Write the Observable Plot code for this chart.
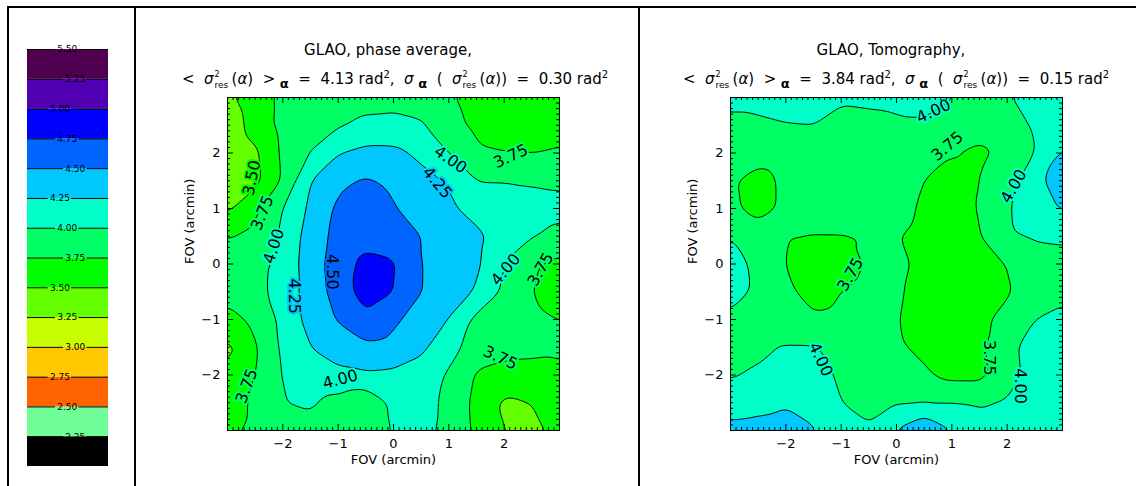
<!DOCTYPE html>
<html><head><meta charset="utf-8">
<script src="https://cdn.jsdelivr.net/npm/d3@7"></script>
<script src="https://cdn.jsdelivr.net/npm/@observablehq/plot@0.6"></script>
<style>
html,body{margin:0;padding:0;background:#fff;}
#root{position:relative;width:1136px;height:486px;overflow:hidden;font-family:"DejaVu Sans",sans-serif;color:#000;}
#root svg{position:absolute;top:0;overflow:visible;}
.ln{position:absolute;background:#000;z-index:5;}
.t{position:absolute;white-space:pre;transform:translateX(-50%);font-size:15px;line-height:15px;z-index:6;}
.ss{position:relative;display:inline-block;width:18px;height:0;}
.up{position:absolute;left:1px;top:-13.6px;font-size:8px;line-height:9.3px;}
.dn{position:absolute;left:1px;top:-3.6px;font-size:9px;line-height:10.5px;}
.sp{position:relative;top:-6px;font-size:10px;}
.sb{position:relative;top:4px;font-size:13px;font-weight:bold;}
i{font-style:italic;}
</style></head>
<body><div id="root"></div>
<script>
// ---------- data ----------
const levels = [2.25, 2.5, 2.75, 3, 3.25, 3.5, 3.75, 4, 4.25, 4.5, 4.75, 5, 5.25, 5.5];
const levelLabels = ["2.25","2.50","2.75","3.00","3.25","3.50","3.75","4.00","4.25","4.50","4.75","5.00","5.25","5.50"];
// colours: below 2.25, then one per band [levels[k], levels[k+1])
const bandColors = ["#000000","#6fff96","#ff6400","#ffc800","#c8ff00","#64ff00","#00ff00","#00ff64","#00ffc8","#00c8ff","#0064ff","#0000ff","#5000b0","#500050","#500050"];
const gridX = [-3,-2.5,-2,-1.5,-1,-0.5,0,0.5,1,1.5,2,2.5,3];
const gridY = [3,2.5,2,1.5,1,0.5,0,-0.5,-1,-1.5,-2,-2.5,-3];
const axisTicks = [-2,-1,0,1,2];
const axisTickLabels = ["−2","−1","0","1","2"];

// residual phase variance (rad^2), rows top (y=3) to bottom (y=-3)
const phaseAverage = [
 [3.45,3.65,3.80,3.85,3.88,3.92,3.92,3.88,3.77,3.68,3.65,3.65,3.65],
 [3.32,3.62,3.82,3.88,3.97,4.05,4.07,4.03,3.82,3.70,3.66,3.66,3.68],
 [3.30,3.45,3.80,4.00,4.24,4.32,4.31,4.20,4.00,3.78,3.75,3.74,3.77],
 [3.30,3.42,3.78,4.25,4.45,4.53,4.46,4.32,4.23,4.00,4.00,3.98,3.97],
 [3.45,3.70,4.00,4.30,4.55,4.60,4.52,4.38,4.30,4.14,4.08,4.08,4.05],
 [3.74,3.78,4.05,4.36,4.58,4.66,4.62,4.50,4.37,4.32,4.12,4.02,3.95],
 [3.85,3.92,4.08,4.38,4.62,4.82,4.78,4.50,4.40,4.30,4.00,3.78,3.68],
 [3.80,3.92,4.10,4.36,4.60,4.87,4.76,4.50,4.38,4.23,3.95,3.75,3.65],
 [3.70,3.78,4.07,4.34,4.52,4.70,4.55,4.38,4.25,3.93,3.85,3.80,3.75],
 [3.42,3.72,4.05,4.25,4.35,4.45,4.42,4.30,4.10,3.88,3.82,3.80,3.78],
 [3.60,3.75,4.02,4.15,4.20,4.22,4.20,4.15,3.97,3.72,3.68,3.68,3.72],
 [3.62,3.80,4.00,4.02,3.92,3.80,4.05,4.08,3.95,3.68,3.45,3.50,3.62],
 [3.72,3.80,3.90,3.95,3.90,3.85,4.02,4.05,3.95,3.70,3.50,3.45,3.55]
];
const tomography = [
 [4.08,4.07,4.10,4.10,4.03,4.05,4.06,4.10,4.01,3.95,3.98,4.10,4.12],
 [3.93,3.96,3.99,4.00,3.93,3.93,3.96,3.96,3.90,3.85,3.90,4.03,4.12],
 [3.85,3.85,3.87,3.88,3.86,3.86,3.86,3.82,3.76,3.70,3.80,4.00,4.28],
 [3.78,3.66,3.80,3.85,3.86,3.86,3.84,3.75,3.68,3.74,3.93,4.12,4.50],
 [3.80,3.66,3.80,3.85,3.87,3.86,3.82,3.72,3.66,3.76,3.98,4.12,4.28],
 [4.00,3.88,3.75,3.74,3.74,3.75,3.76,3.70,3.65,3.73,3.97,4.03,4.05],
 [4.08,3.95,3.74,3.68,3.68,3.77,3.80,3.70,3.65,3.68,3.75,3.88,3.90],
 [4.06,3.97,3.78,3.70,3.75,3.80,3.77,3.70,3.65,3.68,3.72,3.88,3.95],
 [3.97,3.88,3.82,3.77,3.78,3.82,3.76,3.68,3.65,3.70,3.82,4.00,4.05],
 [3.92,3.95,4.02,4.02,3.93,3.85,3.77,3.72,3.67,3.70,3.92,4.12,4.10],
 [3.98,4.03,4.10,4.08,3.97,3.88,3.82,3.77,3.68,3.68,3.90,4.10,4.12],
 [4.10,4.15,4.22,4.12,4.00,3.95,3.98,4.00,4.00,3.97,4.02,4.10,4.18],
 [4.34,4.36,4.38,4.28,4.08,4.02,4.28,4.50,4.26,4.10,4.05,4.15,4.28]
];
// contour labels
const phaseLabels = [
 {text:"3.50", x:-2.56, y:1.55, angle:-78},
 {text:"3.75", x:-2.37, y:0.92, angle:-68},
 {text:"4.00", x:-2.16, y:0.32, angle:-72},
 {text:"4.00", x:1.03, y:1.88, angle:35},
 {text:"4.25", x:0.79, y:1.46, angle:50},
 {text:"3.75", x:2.12, y:1.94, angle:-25},
 {text:"4.50", x:-1.11, y:-0.14, angle:90},
 {text:"4.00", x:2.03, y:-0.10, angle:-50},
 {text:"3.75", x:2.66, y:-0.10, angle:-60},
 {text:"4.25", x:-1.80, y:-0.58, angle:90},
 {text:"3.75", x:-2.65, y:-2.20, angle:-70},
 {text:"4.00", x:-0.96, y:-2.08, angle:-15},
 {text:"3.75", x:1.93, y:-1.69, angle:25}
];
const tomoLabels = [
 {text:"4.00", x:0.67, y:2.75, angle:-25},
 {text:"3.75", x:0.92, y:2.12, angle:-40},
 {text:"4.00", x:2.12, y:1.40, angle:-60},
 {text:"3.75", x:-0.83, y:-0.19, angle:-60},
 {text:"4.00", x:-1.37, y:-1.72, angle:65},
 {text:"3.75", x:1.67, y:-1.69, angle:90},
 {text:"4.00", x:2.24, y:-2.20, angle:90}
];

// ---------- drawing ----------
const root = document.getElementById("root");
const FONT = "DejaVu Sans";

function toPoints(grid) {
  const pts = [];
  gridY.forEach((y, i) => gridX.forEach((x, j) => pts.push({x, y, v: grid[i][j]})));
  return pts;
}
const fmtTick = d => axisTickLabels[axisTicks.indexOf(d)];

function panel(grid, labels, left, width, mL, mR) {
  const H = 486, mT = 97, mB = 56, FH = H - mT - mB, FW = width - mL - mR;
  const minor = d3.range(-29, 30).map(i => i / 10).filter(v => Math.abs(v - Math.round(v)) > 1e-6);
  const major = axisTicks;
  const svg = Plot.plot({
    width, height: H, marginLeft: mL, marginRight: mR, marginTop: mT, marginBottom: mB,
    style: {fontFamily: FONT, fontSize: "13px", background: "transparent", color: "black"},
    x: {domain: [-3, 3]}, y: {domain: [-3, 3]},
    color: {type: "threshold", domain: levels, range: bandColors},
    marks: [
      Plot.contour(toPoints(grid), {x: "x", y: "y", fill: "v", thresholds: levels, interpolate: "barycentric", pixelSize: 2, blur: 2, stroke: "black", strokeWidth: 1}),
      Plot.text(labels, {x: "x", y: "y", text: "text", rotate: "angle", fontSize: 16, fill: "black", stroke: d => +d.text + 0.01, strokeWidth: 4, paintOrder: "stroke"}),
      Plot.tickX(minor, {x: d => d, insetTop: FH - 3, stroke: "black"}),
      Plot.tickX(minor, {x: d => d, insetBottom: FH - 3, stroke: "black"}),
      Plot.tickX(major, {x: d => d, insetTop: FH - 6, stroke: "black"}),
      Plot.tickX(major, {x: d => d, insetBottom: FH - 6, stroke: "black"}),
      Plot.tickY(minor, {y: d => d, insetRight: FW - 3, stroke: "black"}),
      Plot.tickY(minor, {y: d => d, insetLeft: FW - 3, stroke: "black"}),
      Plot.tickY(major, {y: d => d, insetRight: FW - 6, stroke: "black"}),
      Plot.tickY(major, {y: d => d, insetLeft: FW - 6, stroke: "black"}),
      Plot.axisX(major, {tickSize: 0, tickPadding: 8, label: null, fontSize: 13, tickFormat: fmtTick}),
      Plot.axisY(major, {tickSize: 0, tickPadding: 7, label: null, fontSize: 13, tickFormat: fmtTick}),
      Plot.text(["FOV (arcmin)"], {frameAnchor: "bottom", dy: 29, lineAnchor: "middle", fontSize: 13}),
      Plot.text(["FOV (arcmin)"], {frameAnchor: "left", dx: -38, rotate: -90, lineAnchor: "middle", fontSize: 13}),
      Plot.frame({stroke: "black", strokeWidth: 1})
    ]
  });
  svg.style.left = left + "px";
  root.appendChild(svg);
}

function colorbar() {
  const bands = [{lo: 2.0, hi: levels[0], color: bandColors[0]}];
  for (let k = 0; k < levels.length - 1; k++) bands.push({lo: levels[k], hi: levels[k + 1], color: bandColors[k + 1]});
  const offs = [0.49, 0.59, 0.40];
  const gap = 0.145;
  const labs = levels.map((v, i) => ({y: v, text: levelLabels[i], cx: offs[(levels.length - 1 - i) % 3]}));
  const segs = labs.flatMap(d => [{y: d.y, x1: 0, x2: d.cx - gap}, {y: d.y, x1: d.cx + gap, x2: 1}]);
  const svg = Plot.plot({
    width: 140, height: 486, marginLeft: 27, marginRight: 32, marginTop: 49, marginBottom: 20,
    style: {fontFamily: FONT, background: "transparent"},
    x: {domain: [0, 1], axis: null}, y: {domain: [2, 5.5], axis: null},
    marks: [
      Plot.rect(bands, {x1: 0, x2: 1, y1: "lo", y2: "hi", fill: "color"}),
      Plot.ruleY(segs, {y: "y", x1: "x1", x2: "x2", stroke: "black", strokeWidth: 1}),
      Plot.text(labs, {x: "cx", y: "y", text: "text", fontSize: 9, fill: "black"})
    ]
  });
  svg.style.left = "0px";
  root.appendChild(svg);
}

colorbar();
panel(phaseAverage, phaseLabels, 140, 498, 87, 79);
panel(tomography, tomoLabels, 640, 496, 90, 74);

// frame lines
[[7,6,1129,2],[7,6,2,480],[134,6,2,480],[638,6,2,480]].forEach(([l,t,w,h]) => {
  const d = document.createElement("div"); d.className = "ln";
  Object.assign(d.style, {left: l + "px", top: t + "px", width: w + "px", height: h + "px"});
  root.appendChild(d);
});

// titles
const sig2 = '<i>σ</i><span class="ss"><span class="up">2</span><span class="dn">res</span></span>(<i>α</i>)';
function titles(cx1, cx2, name, mean, sd) {
  const a = document.createElement("div"); a.className = "t";
  a.style.left = cx1 + "px"; a.style.top = "43px"; a.textContent = name;
  const b = document.createElement("div"); b.className = "t";
  b.style.left = cx2 + "px"; b.style.top = "72px";
  b.innerHTML = `&lt;  ${sig2}  &gt;<span class="sb"> α</span>  =  ${mean} rad<span class="sp">2</span>,  <i>σ</i><span class="sb"> α</span>  (  ${sig2})  =  ${sd} rad<span class="sp">2</span>`;
  root.appendChild(a); root.appendChild(b);
}
titles(388, 395, "GLAO, phase average,", "4.13", "0.30");
titles(891, 896, "GLAO, Tomography,", "3.84", "0.15");
</script>
</body></html>
